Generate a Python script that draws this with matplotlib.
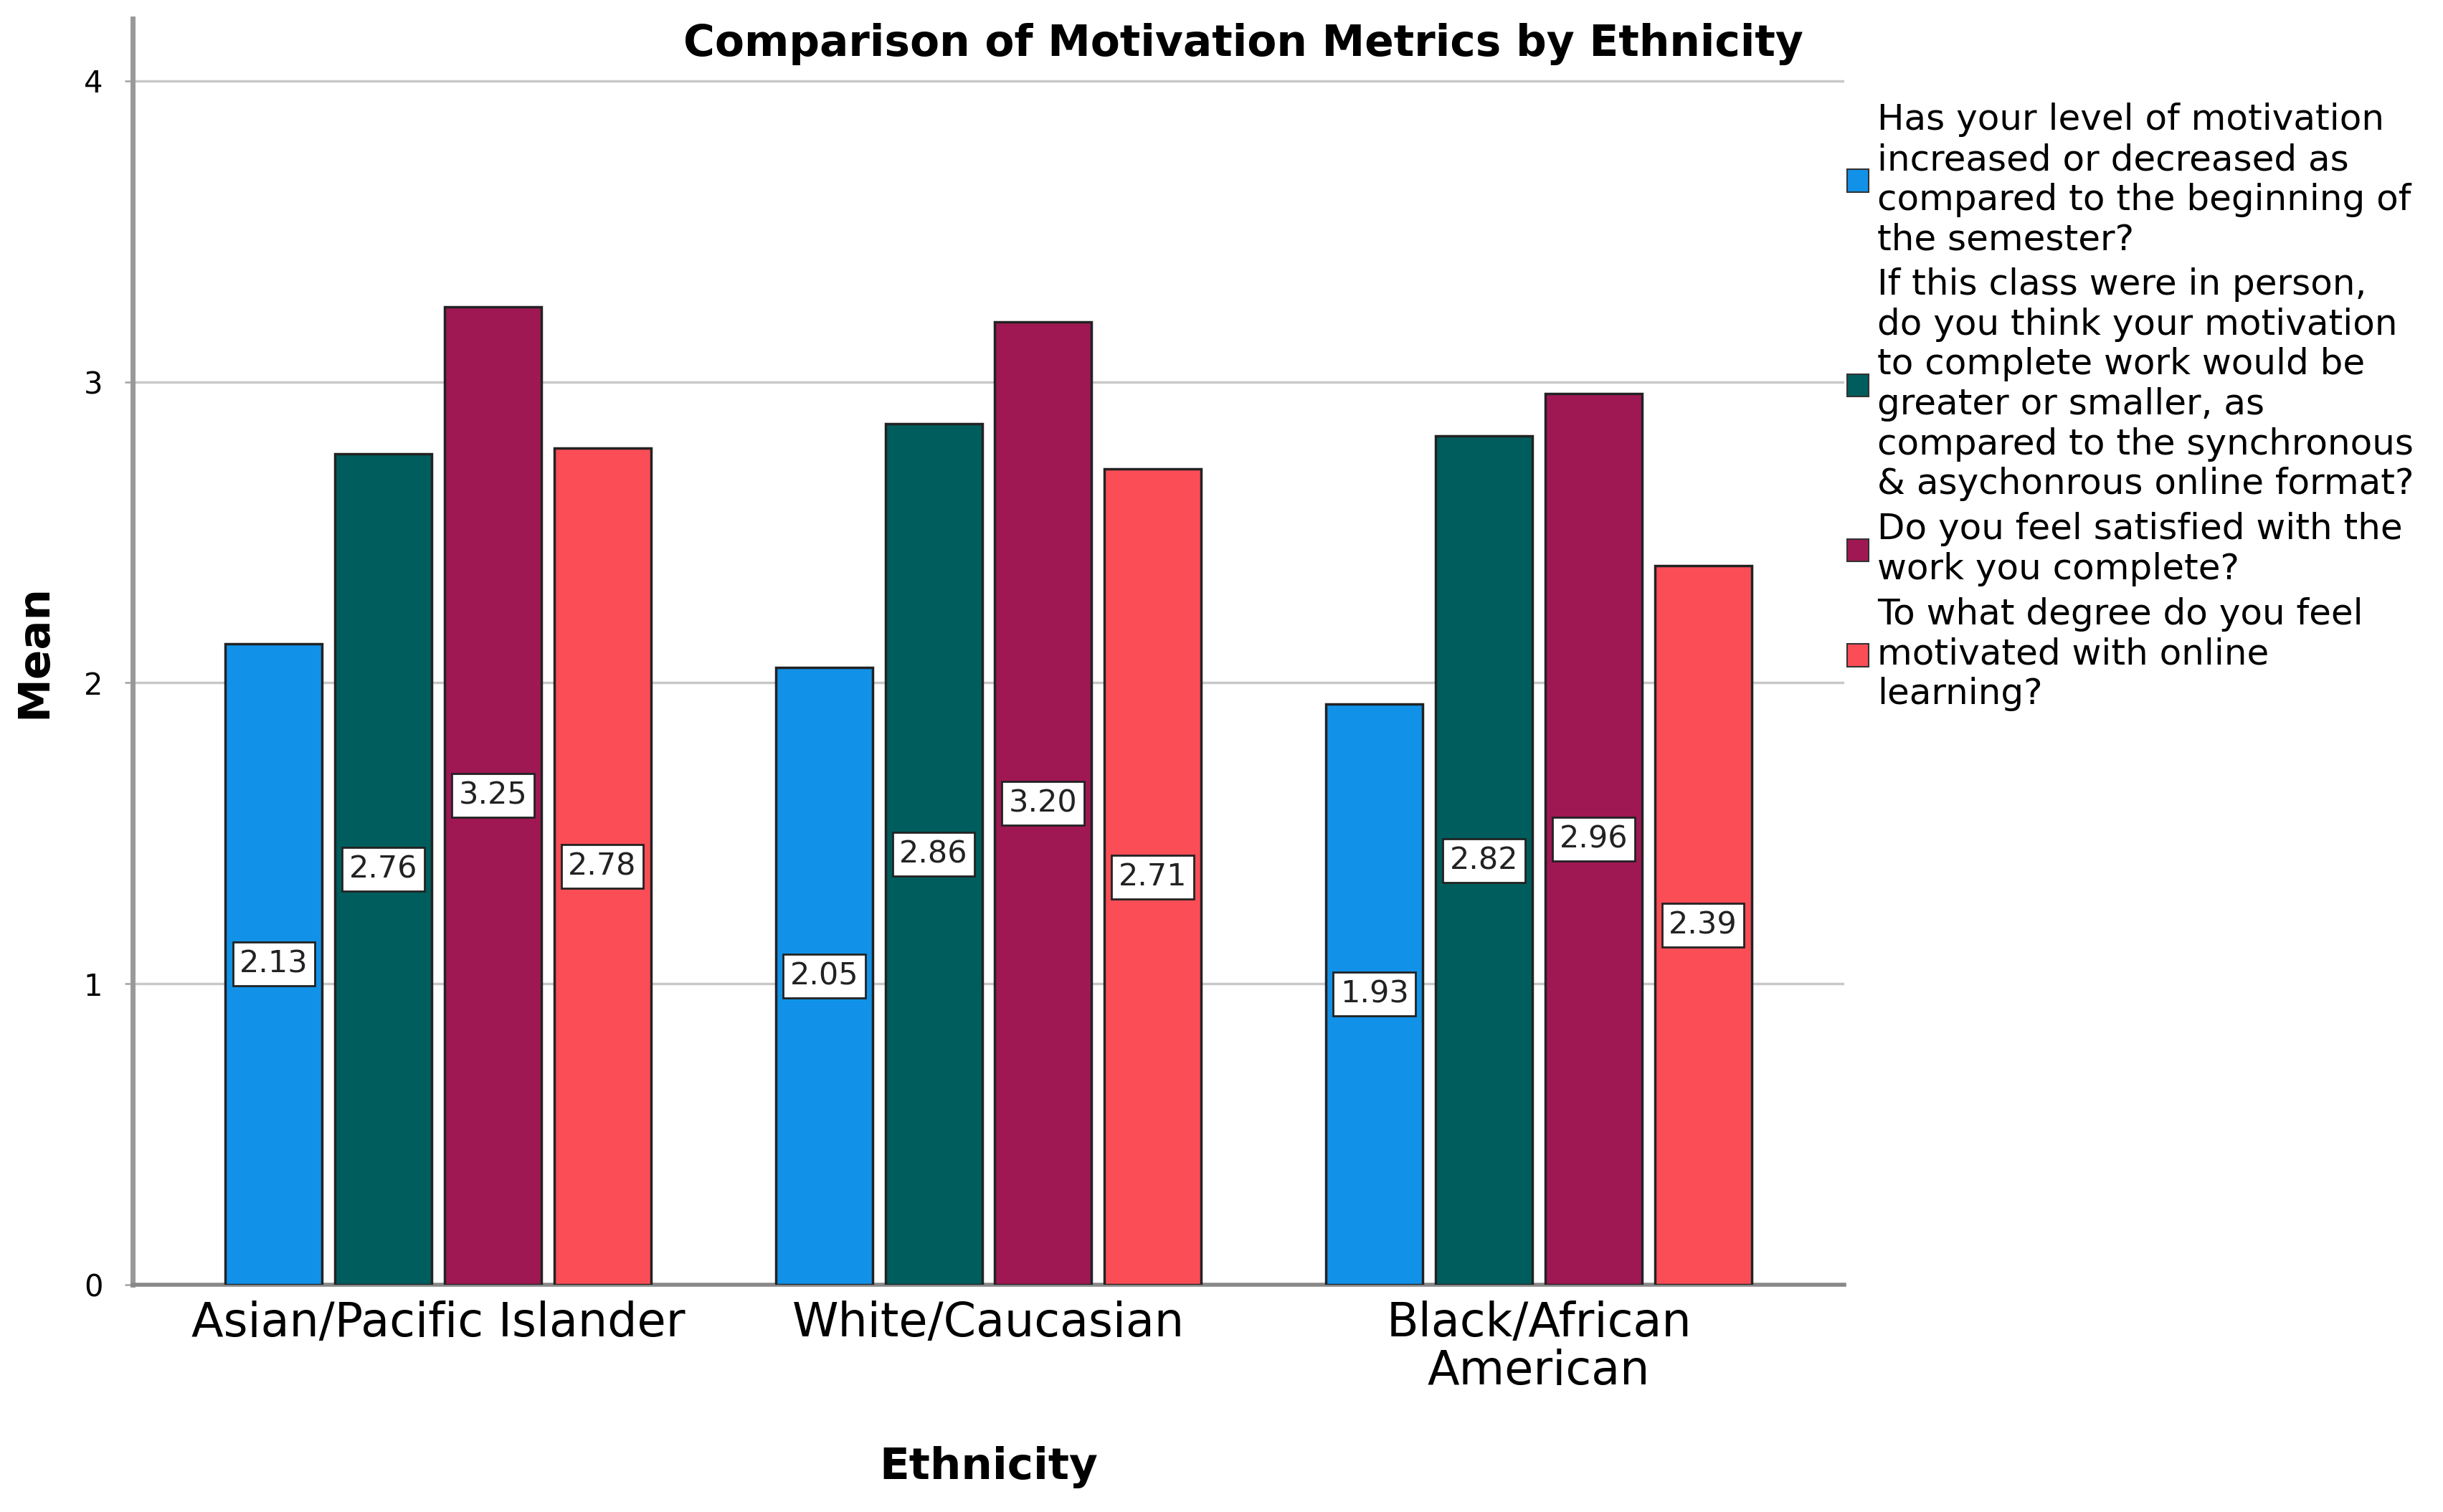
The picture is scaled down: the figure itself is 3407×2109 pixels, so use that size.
import matplotlib.pyplot as plt
import numpy as np
from matplotlib.patches import Patch

ethnicities = ["Asian/Pacific Islander", "White/Caucasian", "Black/African\nAmerican"]
questions = [
    "Has your level of motivation\nincreased or decreased as\ncompared to the beginning of\nthe semester?",
    "If this class were in person,\ndo you think your motivation\nto complete work would be\ngreater or smaller, as\ncompared to the synchronous\n& asychonrous online format?",
    "Do you feel satisfied with the\nwork you complete?",
    "To what degree do you feel\nmotivated with online\nlearning?",
]
motivation_change = [2.13, 2.05, 1.93]
in_person = [2.76, 2.86, 2.82]
satisfied = [3.25, 3.20, 2.96]
motivated_online = [2.78, 2.71, 2.39]

series = [motivation_change, in_person, satisfied, motivated_online]
colors = ["#1192E8", "#005D5D", "#9F1853", "#FA4D56"]

fig = plt.figure(figsize=(34.07, 21.09), dpi=100)
ax = fig.add_axes([0.0543, 0.1503, 0.7006, 0.8374])

x = np.arange(len(ethnicities))
width = 0.176
step = 0.199
for i, vals in enumerate(series):
    pos = x + (i - 1.5) * step
    ax.bar(pos, vals, width, color=colors[i], edgecolor="#222222", linewidth=2.5, zorder=3)
    for p, v in zip(pos, vals):
        ax.text(p, v / 2, f"{v:.2f}", ha="center", va="center", fontsize=31, zorder=4,
                color="#222222",
                bbox=dict(boxstyle="square,pad=0.22", facecolor="white", edgecolor="#222222", linewidth=2))

ax.set_xlim(-0.555, 2.555)
ax.set_ylim(0, 4.207)
ax.set_yticks([0, 1, 2, 3, 4])
ax.set_yticklabels(["0", "1", "2", "3", "4"], fontsize=30)
ax.set_xticks(x)
ax.set_xticklabels(ethnicities, fontsize=47, linespacing=1.05)
ax.tick_params(axis="x", length=0, pad=16)
ax.tick_params(axis="y", length=8, width=2, color="#aaaaaa", pad=22)
ax.grid(axis="y", color="#c8c8c8", linewidth=2.5, zorder=0)
for s in ["top", "right"]:
    ax.spines[s].set_visible(False)
ax.spines["left"].set_color("#999999")
ax.spines["left"].set_linewidth(5)
ax.spines["bottom"].set_color("#888888")
ax.spines["bottom"].set_linewidth(4)

ax.set_xlabel("Ethnicity", fontsize=44, fontweight="bold", labelpad=52)
ax.set_ylabel("Mean", fontsize=44, fontweight="bold", labelpad=28)
fig.text(0.509, 0.971, "Comparison of Motivation Metrics by Ethnicity", ha="center", va="center",
         fontsize=43, fontweight="bold")

handles = [Patch(facecolor=c, edgecolor="#333333", linewidth=1.5) for c in colors]
leg = fig.legend(handles, questions, loc="upper left", bbox_to_anchor=(0.756, 0.932), frameon=False,
                 fontsize=36, handlelength=0.6, handleheight=0.6, handletextpad=0.25, labelspacing=0.3,
                 borderaxespad=0, borderpad=0)
for t in leg.get_texts():
    t.set_linespacing(1.2)

plt.savefig("out.png", dpi=100)
